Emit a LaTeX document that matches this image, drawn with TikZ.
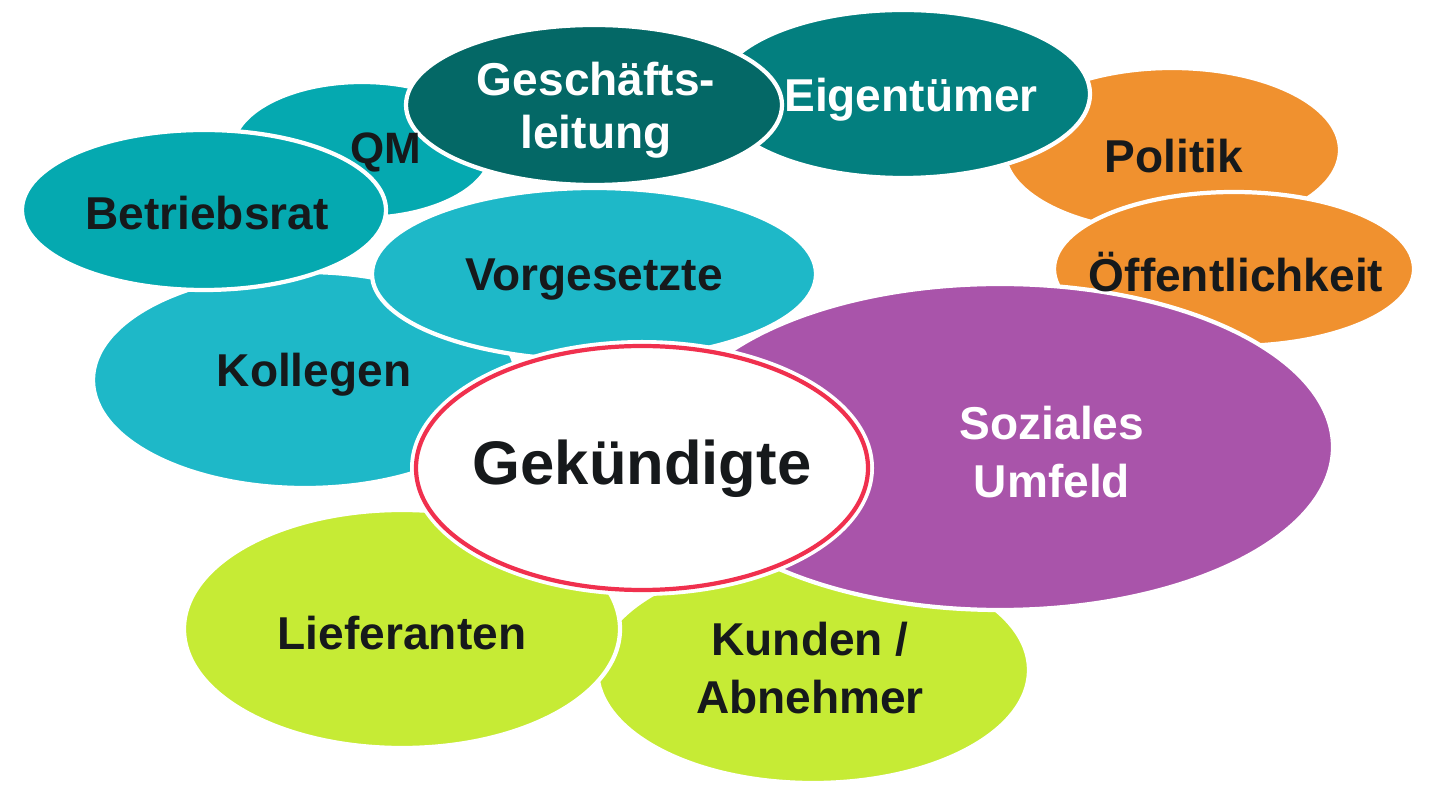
\documentclass[tikz,border=0pt]{standalone}
\usepackage{fontspec}
\setmainfont{Liberation Sans}
\definecolor{qmteal}{HTML}{05A9B0}
\definecolor{lightteal}{HTML}{1EB8C8}
\definecolor{darkteal}{HTML}{046866}
\definecolor{midteal}{HTML}{037F7F}
\definecolor{orangebub}{HTML}{F0912F}
\definecolor{purplebub}{HTML}{A954AA}
\definecolor{limebub}{HTML}{C6EB35}
\definecolor{ringred}{HTML}{F0304E}
\definecolor{textdark}{HTML}{16191B}
\begin{document}
\begin{tikzpicture}[x=0.01cm, y=-0.01cm]
        \tikzset{bubble/.style={draw=white, line width=1.2pt},
                 bubbletext/.style={font=\bfseries\fontsize{13.1}{16.5}\selectfont, align=center, text=textdark, inner sep=0pt},
                 whitetext/.style={bubbletext, text=white}}
        \useasboundingbox (0,0) rectangle (1440,810);
        \fill [white] (0,0) rectangle (1440,810);
        \draw [bubble, fill=orangebub] (1172,150) ellipse (168 and 82);
        \draw [bubble, fill=orangebub] (1234,269) ellipse (180 and 77);
        \draw [bubble, fill=midteal] (903,94) ellipse (187 and 84);
        \draw [bubble, fill=qmteal] (362,150) ellipse (130 and 68);
        \draw [bubble, fill=darkteal] (594,105) ellipse (188 and 80);
        \draw [bubble, fill=lightteal] (305,380) ellipse (212 and 108);
        \draw [bubble, fill=qmteal] (204,210) ellipse (182 and 80);
        \draw [bubble, fill=limebub] (813,670) ellipse (216 and 113);
        \draw [bubble, fill=purplebub] (1000,447) ellipse (333 and 163);
        \draw [bubble, fill=lightteal] (594,274) ellipse (222 and 86);
        \draw [bubble, fill=limebub] (402,629) ellipse (218 and 119);
        \fill [white] (642,468) ellipse (232 and 128);
        \draw [draw=ringred, fill=white, line width=1.2pt] (642,468) ellipse (226 and 122);
        \begin{scope}
            \node[bubbletext, font=\bfseries\fontsize{12.5}{15}\selectfont] (qm) at (386,152) {QM};
            \node[bubbletext] (betriebsrat) at (207,213) {Betriebsrat};
            \node[whitetext, font=\bfseries\fontsize{13.1}{15}\selectfont] (leitung) at (596,110) {Geschäfts-\\leitung};
            \node[whitetext] (eigentuemer) at (911,100) {Eigentümer};
            \node[bubbletext] (politik) at (1174,156) {Politik};
            \node[bubbletext] (oeffentlichkeit) at (1236,272) {Öffentlichkeit};
            \node[bubbletext] (vorgesetzte) at (594,280) {Vorgesetzte};
            \node[bubbletext] (kollegen) at (314,375) {Kollegen};
            \node[bubbletext, font=\bfseries\fontsize{17.5}{20}\selectfont] (gekuendigte) at (642,469) {Gekündigte};
            \node[whitetext] (umfeld) at (1052,452) {Soziales\\Umfeld};
            \node[bubbletext] (lieferanten) at (402,633) {Lieferanten};
            \node[bubbletext] (kunden) at (810,668) {Kunden /\\Abnehmer};
        \end{scope}
    \end{tikzpicture}
\end{document}
